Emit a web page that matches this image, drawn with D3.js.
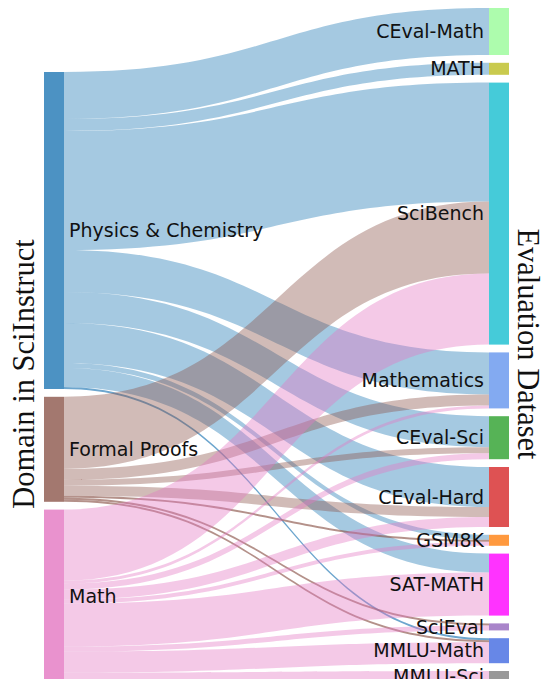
<!DOCTYPE html>
<html>
<head>
<meta charset="utf-8">
<script src="https://cdn.jsdelivr.net/npm/d3@7"></script>
<style>
  html, body { margin: 0; padding: 0; background: #fff; }
  svg { display: block; }
</style>
</head>
<body>
<svg id="chart" width="545" height="679"></svg>
<script>
// ---------------- data ----------------
const sourceNodes = ["Physics & Chemistry", "Formal Proofs", "Math"];
const targetNodes = ["CEval-Math", "MATH", "SciBench", "Mathematics", "CEval-Sci",
                     "CEval-Hard", "GSM8K", "SAT-MATH", "SciEval", "MMLU-Math", "MMLU-Sci"];

const sourceColors = ["#1f77b4", "#8c564b", "#e377c2"];
const targetColors = ["#98fb98", "#bcbd22", "#17becf", "#6495ed", "#2ca02c",
                      "#d62728", "#ff7f0e", "#ff00ff", "#9467bd", "#4169e1", "#7f7f7f"];

const linkSource = [
  "Physics & Chemistry", "Physics & Chemistry", "Physics & Chemistry", "Physics & Chemistry",
  "Physics & Chemistry", "Physics & Chemistry", "Physics & Chemistry", "Physics & Chemistry",
  "Physics & Chemistry",
  "Formal Proofs", "Formal Proofs", "Formal Proofs", "Formal Proofs", "Formal Proofs",
  "Formal Proofs", "Formal Proofs",
  "Math", "Math", "Math", "Math", "Math", "Math", "Math", "Math", "Math"
];
const linkTarget = [
  "CEval-Math", "MATH", "SciBench", "Mathematics", "CEval-Sci", "CEval-Hard", "GSM8K", "SAT-MATH",
  "MMLU-Math",
  "SciBench", "Mathematics", "CEval-Sci", "CEval-Hard", "GSM8K", "SciEval", "MMLU-Math",
  "SciBench", "Mathematics", "CEval-Sci", "CEval-Hard", "GSM8K", "SAT-MATH", "SciEval", "MMLU-Math",
  "MMLU-Sci"
];
const linkValue = [
  47, 12, 119, 42, 31, 40, 5, 19, 2,
  72, 11, 6, 10, 2, 2, 2,
  71, 3, 6, 10, 4, 43, 5, 21, 11
];

const yTitleLeft = "Domain in SciInstruct";
const yTitleRight = "Evaluation Dataset";

// ---------------- layout settings ----------------
const nodeWidth = 20;
const nodePad = 7.8;
const extentTop = 8, extentBottom = 682;
const columnTop = [72, 8];          // where each column starts
const nodeOpacity = 0.8, linkOpacity = 0.4, thinLinkOpacity = 0.65;

const svg = d3.select("#chart");

// column x positions
const xCol = d3.scaleLinear().domain([0, 1]).range([44, 489]);

// build nodes
const nodes = [];
sourceNodes.forEach((n, i) => nodes.push({ name: n, col: 0, idx: i, color: sourceColors[i], out: [], inc: [] }));
targetNodes.forEach((n, i) => nodes.push({ name: n, col: 1, idx: i, color: targetColors[i], out: [], inc: [] }));
const byName = new Map(nodes.map(d => [d.name, d]));

const links = linkValue.map((v, i) => ({
  source: byName.get(linkSource[i]),
  target: byName.get(linkTarget[i]),
  value: v
}));
links.forEach(l => { l.source.out.push(l); l.target.inc.push(l); });
nodes.forEach(n => n.value = Math.max(d3.sum(n.out, l => l.value), d3.sum(n.inc, l => l.value)));

// value scale (pixels per unit) from the densest column
const cols = [nodes.filter(n => n.col === 0), nodes.filter(n => n.col === 1)];
const ky = d3.min(cols, c => (extentBottom - extentTop - (c.length - 1) * nodePad) / d3.sum(c, n => n.value));
const h = d3.scaleLinear().domain([0, 1]).range([0, ky]);

cols.forEach((c, ci) => {
  let y = columnTop[ci];
  c.forEach(n => {
    n.x0 = xCol(ci); n.x1 = n.x0 + nodeWidth;
    n.y0 = y; n.y1 = y + h(n.value);
    y = n.y1 + nodePad;
  });
});

// stack link ends
nodes.forEach(n => {
  n.out.sort((a, b) => a.target.y0 - b.target.y0);
  let y = n.y0;
  n.out.forEach(l => { l.sy0 = y; y += h(l.value); l.sy1 = y; });
  n.inc.sort((a, b) => a.source.y0 - b.source.y0);
  y = n.y0;
  n.inc.forEach(l => { l.ty0 = y; y += h(l.value); l.ty1 = y; });
});

function linkPath(l) {
  const x0 = l.source.x1, x1 = l.target.x0;
  const xi = d3.interpolateNumber(x0, x1);
  const xa = xi(0.5), xb = xi(0.5);
  const p = d3.path();
  p.moveTo(x0, l.sy0);
  p.bezierCurveTo(xa, l.sy0, xb, l.ty0, x1, l.ty0);
  p.lineTo(x1, l.ty1);
  p.bezierCurveTo(xb, l.ty1, xa, l.sy1, x0, l.sy1);
  p.closePath();
  return p.toString();
}

// links
svg.append("g").selectAll("path").data(links).join("path")
  .attr("d", linkPath)
  .attr("fill", d => d.source.color)
  .attr("fill-opacity", d => h(d.value) < 3 ? thinLinkOpacity : linkOpacity)
  .attr("stroke", "none");

// nodes
svg.append("g").selectAll("rect").data(nodes).join("rect")
  .attr("x", d => d.x0).attr("y", d => d.y0)
  .attr("width", d => d.x1 - d.x0).attr("height", d => d.y1 - d.y0)
  .attr("fill", d => d.color)
  .attr("fill-opacity", nodeOpacity);

// node labels
svg.append("g").selectAll("text").data(nodes).join("text")
  .attr("x", d => d.col === 0 ? d.x1 + 5 : d.x0 - 5)
  .attr("y", d => (d.y0 + d.y1) / 2)
  .attr("dy", "0.35em")
  .attr("text-anchor", d => d.col === 0 ? "start" : "end")
  .attr("font-family", "DejaVu Sans, sans-serif")
  .attr("font-size", 19)
  .attr("fill", "#111")
  .text(d => d.name);

// axis titles
svg.append("text")
  .attr("transform", "translate(34,374) rotate(-90)")
  .attr("text-anchor", "middle")
  .attr("font-family", "Liberation Serif, Times New Roman, serif")
  .attr("font-size", 30.5)
  .attr("fill", "#111")
  .text(yTitleLeft);

svg.append("text")
  .attr("transform", "translate(518,344) rotate(90)")
  .attr("text-anchor", "middle")
  .attr("font-family", "Liberation Serif, Times New Roman, serif")
  .attr("font-size", 30.5)
  .attr("fill", "#111")
  .text(yTitleRight);
</script>
</body>
</html>
